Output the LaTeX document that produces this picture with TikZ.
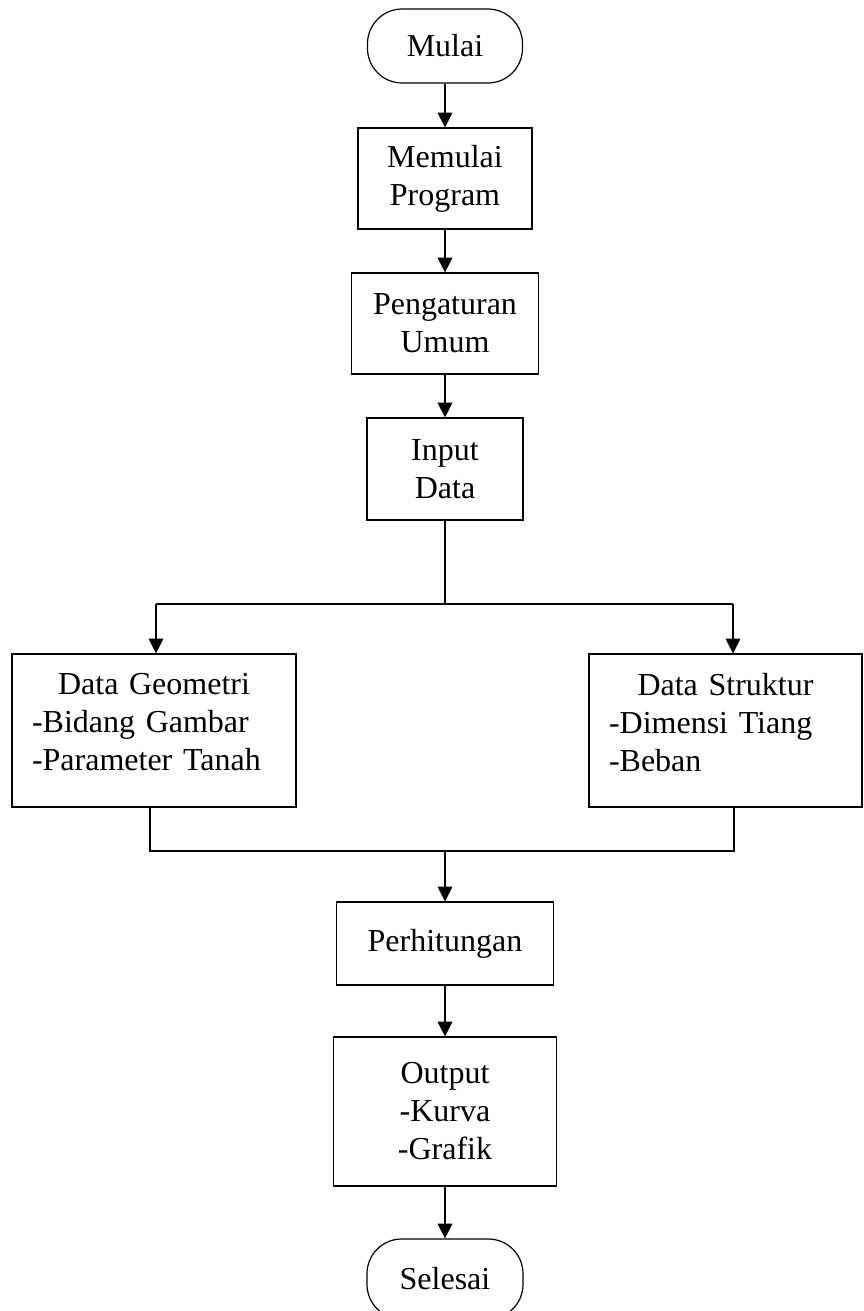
\documentclass[tikz,border=0pt]{standalone}
\usepackage{fontspec}
\setmainfont{Liberation Serif}
\usetikzlibrary{arrows.meta}
\tikzset{
    every node/.style = {font=\fontsize{24}{28.5}\selectfont},
    size/.style 2 args = {minimum width=#1*0.75pt, minimum height=#2*0.75pt},
    proc/.style = {draw, line width=0.9pt, align=center, inner sep=0pt},
    term/.style = {proc, rounded corners=26pt},
    link/.style = {draw, line width=0.9pt},
    flow/.style = {link, -{Triangle[length=11pt, width=11pt]}}
}

\begin{document}
\begin{tikzpicture}[x=0.75pt, y=-0.75pt]
    \useasboundingbox (0,0) rectangle (864,1311);
    \node[term, size={155}{74}] (mulai) at (445,46) {Mulai};
    \node[proc, size={174}{101}] (memulai) at (445,178.5) {Memulai\\Program};
    \node[proc, size={187}{101}] (atur) at (445,323.5) {Pengaturan\\Umum};
    \node[proc, size={156}{102}] (input) at (445,469) {Input\\Data};
    \node[proc, size={284}{153}, text width=183pt, align=left] (geometri) at (154,730.5)
        {\makebox[\linewidth]{Data Geometri}\\-Bidang Gambar\\-Parameter Tanah\\[-16pt]\mbox{}};
    \node[proc, size={273}{153}, text width=174.75pt, align=left] (struktur) at (725.5,730.5)
        {\makebox[\linewidth]{Data Struktur}\\-Dimensi Tiang\\-Beban\\[-16pt]\mbox{}};
    \node[proc, size={217}{83}] (hitung) at (445,943.5) {Perhitungan};
    \node[proc, size={223}{149}] (output) at (445,1111.5) {Output\\-Kurva\\-Grafik};
    \node[term, size={156}{80}] (selesai) at (445,1279) {Selesai};

    \coordinate (split) at (445,604);
    \coordinate (splitL) at (156,604);
    \coordinate (splitR) at (733,604);
    \coordinate (join) at (445,851);
    \coordinate (joinL) at (150,851);
    \coordinate (joinR) at (734,851);

    \draw[flow] (mulai) -- (memulai);
    \draw[flow] (memulai) -- (atur);
    \draw[flow] (atur) -- (input);
    \draw[link] (input) -- (split);
    \draw[link] (splitL) -- (splitR);
    \draw[flow] (splitL) -- (splitL |- geometri.north);
    \draw[flow] (splitR) -- (splitR |- struktur.north);
    \draw[link] (geometri.south -| joinL) -- (joinL) -- (joinR) -- (struktur.south -| joinR);
    \draw[flow] (join) -- (hitung);
    \draw[flow] (hitung) -- (output);
    \draw[flow] (output) -- (selesai);
\end{tikzpicture}
\end{document}
